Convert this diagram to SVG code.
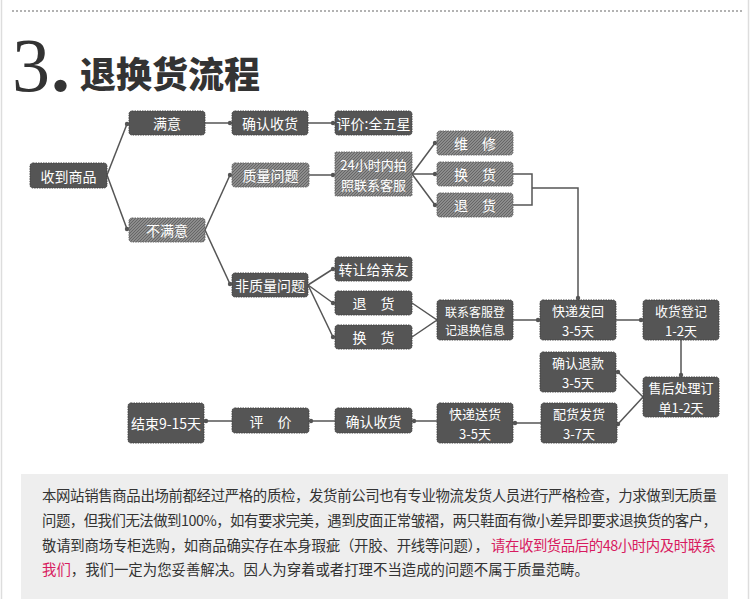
<svg xmlns="http://www.w3.org/2000/svg" width="750" height="599" viewBox="0 0 750 599">
<defs>
<pattern id="hatch" patternUnits="userSpaceOnUse" width="3" height="3">
<rect width="3" height="3" fill="#8c8c8c"/>
<path d="M0,3 L3,0" stroke="#666" stroke-width="1"/>
</pattern>
<marker id="dot" markerUnits="userSpaceOnUse" markerWidth="6" markerHeight="6" refX="3" refY="3">
<circle cx="3" cy="3" r="2.2" fill="#555"/>
</marker>
</defs>
<style>
.dark{fill:#555;stroke:#444;stroke-width:1;stroke-dasharray:1.5 1}
.hat{fill:url(#hatch);stroke:#666;stroke-width:1;stroke-dasharray:1.5 1}
.t{font-family:"Noto Sans CJK SC","Liberation Sans",sans-serif;font-size:14px;fill:#fff;text-anchor:middle;dominant-baseline:central}
.d{font-size:13px}
.s{font-size:12px}
.c{fill:none;stroke:#555;stroke-width:1.5;marker-end:url(#dot)}
.cn{fill:none;stroke:#555;stroke-width:1.5}
.p{font-family:"Noto Sans CJK SC","Liberation Sans",sans-serif;font-size:14.4px;fill:#333}
.pk{fill:#d81b60}
</style>
<rect width="750" height="599" fill="#fff"/>
<line x1="1.5" y1="0" x2="1.5" y2="599" stroke="#ddd" stroke-width="1.5"/>
<line x1="748.5" y1="0" x2="748.5" y2="599" stroke="#ddd" stroke-width="1.5"/>
<line x1="12" y1="11" x2="743" y2="11" stroke="#666" stroke-width="1.2" stroke-dasharray="2 2"/>
<g id="title">
<text x="12" y="91" font-family="Liberation Serif,serif" font-size="76" fill="#333">3</text>
<text x="51" y="91" font-family="Liberation Serif,serif" font-size="76" font-weight="bold" fill="#333">.</text>
<text x="80" y="88" font-family="Noto Sans CJK SC,sans-serif" font-size="36" font-weight="900" fill="#333">退换货流程</text>
</g>
<g id="connectors">
<path class="c" d="M107,175 L127,124"/>
<path class="c" d="M107,175 L127,229"/>
<path class="c" d="M205,123 L230,123"/>
<path class="c" d="M308,123 L333,123"/>
<path class="c" d="M205,230 L230,175"/>
<path class="c" d="M205,230 L230,284"/>
<path class="c" d="M309,175 L333,175"/>
<path class="c" d="M412,174 L435,143"/>
<path class="c" d="M412,174 L435,174"/>
<path class="c" d="M412,174 L435,205"/>
<path class="cn" d="M513,174 H532 V205 H513"/>
<path class="c" d="M532,188 H578 V298"/>
<path class="c" d="M308,285 L333,269"/>
<path class="c" d="M308,285 L333,303"/>
<path class="c" d="M308,285 L333,337"/>
<path class="cn" d="M412,303 L437,320 L412,337"/>
<path class="c" d="M513,320 L538,320"/>
<path class="c" d="M616,320 L641,320"/>
<path class="c" d="M681,340 V375"/>
<path class="c" d="M643,397 L618,372"/>
<path class="c" d="M643,397 L618,424"/>
<path class="c" d="M541,423 L515,423"/>
<path class="c" d="M437,421 L414,421"/>
<path class="c" d="M335,421 L311,421"/>
<path class="c" d="M232,421 L206,421"/>
</g>
<g id="n1"><rect class="dark" x="30" y="163" width="77" height="25" rx="3"/><text class="t" x="68.5" y="175.5">收到商品</text></g>
<g id="n2"><rect class="dark" x="129" y="111" width="76" height="24" rx="3"/><text class="t" x="167" y="123">满意</text></g>
<g id="n3"><rect class="dark" x="232" y="111" width="76" height="24" rx="3"/><text class="t" x="270" y="123">确认收货</text></g>
<g id="n4"><rect class="dark" x="335" y="111" width="77" height="24" rx="3"/><text class="t" x="373.5" y="123" font-size="13.5">评价:全五星</text></g>
<g id="n5"><rect class="hat" x="129" y="218" width="76" height="24" rx="3"/><text class="t" x="167" y="230">不满意</text></g>
<g id="n6"><rect class="hat" x="232" y="163" width="77" height="24" rx="3"/><text class="t" x="270.5" y="175">质量问题</text></g>
<g id="n7"><rect class="hat" x="335" y="152" width="77" height="44" rx="1"/><text class="t d" x="373.5" y="164">24小时内拍<tspan x="373.5" dy="20">照联系客服</tspan></text></g>
<g id="n8"><rect class="hat" x="437" y="131" width="76" height="24" rx="3"/><text class="t" x="475" y="143">维　修</text></g>
<g id="n9"><rect class="hat" x="437" y="162" width="76" height="24" rx="3"/><text class="t" x="475" y="174">换　货</text></g>
<g id="n10"><rect class="hat" x="437" y="193" width="76" height="24" rx="3"/><text class="t" x="475" y="205">退　货</text></g>
<g id="n11"><rect class="dark" x="232" y="273" width="76" height="24" rx="3"/><text class="t" x="270" y="285">非质量问题</text></g>
<g id="n12"><rect class="dark" x="335" y="257" width="77" height="24" rx="3"/><text class="t" x="373.5" y="269">转让给亲友</text></g>
<g id="n13"><rect class="dark" x="335" y="291" width="77" height="24" rx="3"/><text class="t" x="373.5" y="303">退　货</text></g>
<g id="n14"><rect class="dark" x="335" y="325" width="77" height="24" rx="3"/><text class="t" x="373.5" y="337">换　货</text></g>
<g id="n15"><rect class="dark" x="437" y="300" width="76" height="40" rx="3"/><text class="t s" x="475" y="311">联系客服登<tspan x="475" dy="18">记退换信息</tspan></text></g>
<g id="n16"><rect class="dark" x="540" y="300" width="76" height="40" rx="3"/><text class="t d" x="578" y="310.5">快递发回<tspan x="578" dy="19">3-5天</tspan></text></g>
<g id="n17"><rect class="dark" x="643" y="300" width="76" height="40" rx="3"/><text class="t d" x="681" y="310.5">收货登记<tspan x="681" dy="19">1-2天</tspan></text></g>
<g id="n18"><rect class="dark" x="540" y="352" width="76" height="40" rx="3"/><text class="t d" x="578" y="362.5">确认退款<tspan x="578" dy="19">3-5天</tspan></text></g>
<g id="n19"><rect class="dark" x="643" y="377" width="76" height="40" rx="3"/><text class="t d" x="681" y="387.5">售后处理订<tspan x="681" dy="19">单1-2天</tspan></text></g>
<g id="n20"><rect class="dark" x="541" y="403" width="76" height="40" rx="3"/><text class="t d" x="579" y="413.5">配货发货<tspan x="579" dy="19">3-7天</tspan></text></g>
<g id="n21"><rect class="dark" x="437" y="403" width="76" height="40" rx="3"/><text class="t d" x="475" y="413.5">快递送货<tspan x="475" dy="19">3-5天</tspan></text></g>
<g id="n22"><rect class="dark" x="335" y="408" width="77" height="25" rx="3"/><text class="t" x="373.5" y="420.5">确认收货</text></g>
<g id="n23"><rect class="dark" x="232" y="408" width="77" height="25" rx="3"/><text class="t" x="270.5" y="420.5">评　价</text></g>
<g id="n24"><rect class="dark" x="128" y="403" width="76" height="40" rx="3"/><text class="t" x="166" y="423">结束9-15天</text></g>
<g id="note">
<rect x="21" y="474" width="707" height="125" fill="#eeeeee"/>
<text class="p" x="42" y="501" textLength="675">本网站销售商品出场前都经过严格的质检，发货前公司也有专业物流发货人员进行严格检查，力求做到无质量</text>
<text class="p" x="42" y="526" textLength="675">问题，但我们无法做到100%，如有要求完美，遇到皮面正常皱褶，两只鞋面有微小差异即要求退换货的客户，</text>
<text class="p" x="42" y="551" textLength="447">敬请到商场专柜选购，如商品确实存在本身瑕疵（开胶、开线等问题），</text>
<text class="p pk" x="491" y="551" textLength="225">请在收到货品后的48小时内及时联系</text>
<text class="p" x="42" y="575"><tspan class="pk">我们</tspan>，我们一定为您妥善解决。因人为穿着或者打理不当造成的问题不属于质量范畴。</text>
</g>
</svg>
